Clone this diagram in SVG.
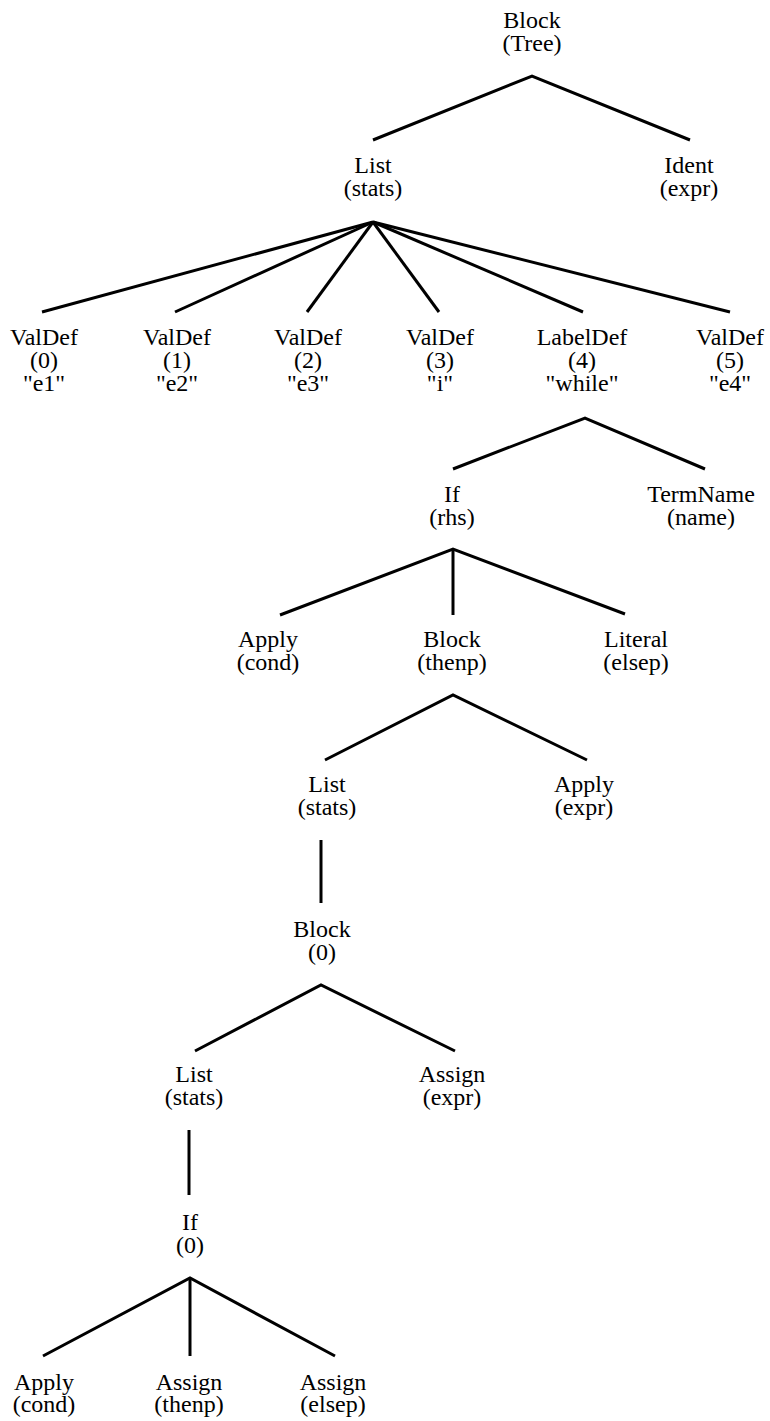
<svg xmlns="http://www.w3.org/2000/svg" width="770" height="1421" viewBox="0 0 770 1421">
  <style>
    .lbl { font-family: "Liberation Serif", "DejaVu Serif", serif; font-size: 24px; fill: #000; text-anchor: middle; }
    .edge { stroke: #000; stroke-width: 3; fill: none; stroke-linecap: butt; stroke-linejoin: miter; }
  </style>
  <rect width="770" height="1421" fill="#fff"/>

  <!-- tree edges -->
  <g id="edges" class="edge">
    <polyline points="373,140 532,76 690,140"/>
    <line x1="373" y1="222" x2="42" y2="312"/>
    <line x1="373" y1="222" x2="175" y2="312"/>
    <line x1="373" y1="222" x2="307" y2="312"/>
    <line x1="373" y1="222" x2="439" y2="312"/>
    <line x1="373" y1="222" x2="583" y2="312"/>
    <line x1="373" y1="222" x2="730" y2="312"/>
    <polyline points="453,469 585,418 705,469"/>
    <polyline points="280,615 453,549 625,614"/>
    <line x1="453" y1="549" x2="453" y2="615"/>
    <polyline points="325,760 453,695 587,760"/>
    <line x1="321" y1="840" x2="321" y2="903"/>
    <polyline points="195,1051 321,985 455,1051"/>
    <line x1="189" y1="1130" x2="189" y2="1195"/>
    <polyline points="43,1356 190,1278 335,1356"/>
    <line x1="190" y1="1278" x2="190" y2="1356"/>
  </g>

  <g id="n-root" class="lbl"><text x="532" y="28">Block</text><text x="532" y="51">(Tree)</text></g>
  <g id="n-list" class="lbl"><text x="373" y="173">List</text><text x="373" y="196">(stats)</text></g>
  <g id="n-ident" class="lbl"><text x="689" y="173">Ident</text><text x="689" y="196">(expr)</text></g>

  <g id="n-valdef0" class="lbl"><text x="44" y="345">ValDef</text><text x="44" y="368">(0)</text><text x="44" y="391">"e1"</text></g>
  <g id="n-valdef1" class="lbl"><text x="177" y="345">ValDef</text><text x="177" y="368">(1)</text><text x="177" y="391">"e2"</text></g>
  <g id="n-valdef2" class="lbl"><text x="308" y="345">ValDef</text><text x="308" y="368">(2)</text><text x="308" y="391">"e3"</text></g>
  <g id="n-valdef3" class="lbl"><text x="440" y="345">ValDef</text><text x="440" y="368">(3)</text><text x="440" y="391">"i"</text></g>
  <g id="n-labeldef" class="lbl"><text x="582" y="345">LabelDef</text><text x="582" y="368">(4)</text><text x="582" y="391">"while"</text></g>
  <g id="n-valdef5" class="lbl"><text x="730" y="345">ValDef</text><text x="730" y="368">(5)</text><text x="730" y="391">"e4"</text></g>

  <g id="n-if" class="lbl"><text x="452" y="502">If</text><text x="452" y="525">(rhs)</text></g>
  <g id="n-termname" class="lbl"><text x="701" y="502">TermName</text><text x="701" y="525">(name)</text></g>

  <g id="n-apply-cond" class="lbl"><text x="268" y="647">Apply</text><text x="268" y="670">(cond)</text></g>
  <g id="n-block-thenp" class="lbl"><text x="452" y="647">Block</text><text x="452" y="670">(thenp)</text></g>
  <g id="n-literal" class="lbl"><text x="636" y="647">Literal</text><text x="636" y="670">(elsep)</text></g>

  <g id="n-list2" class="lbl"><text x="327" y="792">List</text><text x="327" y="815">(stats)</text></g>
  <g id="n-apply-expr" class="lbl"><text x="584" y="792">Apply</text><text x="584" y="815">(expr)</text></g>

  <g id="n-block0" class="lbl"><text x="322" y="937">Block</text><text x="322" y="960">(0)</text></g>

  <g id="n-list3" class="lbl"><text x="194" y="1082">List</text><text x="194" y="1105">(stats)</text></g>
  <g id="n-assign-expr" class="lbl"><text x="452" y="1082">Assign</text><text x="452" y="1105">(expr)</text></g>

  <g id="n-if0" class="lbl"><text x="190" y="1230">If</text><text x="190" y="1253">(0)</text></g>

  <g id="n-apply-cond2" class="lbl"><text x="44" y="1390">Apply</text><text x="44" y="1412">(cond)</text></g>
  <g id="n-assign-thenp" class="lbl"><text x="189" y="1390">Assign</text><text x="189" y="1412">(thenp)</text></g>
  <g id="n-assign-elsep" class="lbl"><text x="333" y="1390">Assign</text><text x="333" y="1412">(elsep)</text></g>
</svg>
